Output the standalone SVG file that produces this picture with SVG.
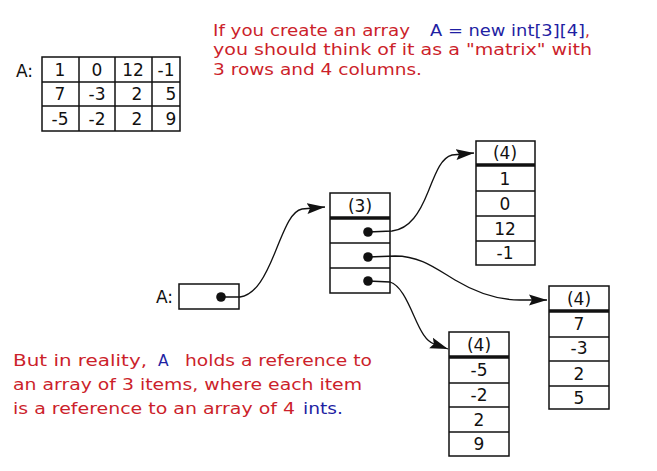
<svg xmlns="http://www.w3.org/2000/svg" width="657" height="471" viewBox="0 0 657 471">
<style>
text{font-family:"DejaVu Sans","Liberation Sans",sans-serif;}
.red{fill:#cc1f2b;font-size:15.5px;}
.blue{fill:#1f1fa3;font-size:15.5px;}
.lbl{fill:#111;font-size:17px;text-anchor:middle;}
.lbl2{fill:#111;font-size:17px;}
.box{fill:#fff;stroke:#111;stroke-width:1.5;}
.div{stroke:#111;stroke-width:1.5;}
.thick{stroke:#111;stroke-width:3.5;}
.conn{fill:none;stroke:#111;stroke-width:1.3;}
.dot{fill:#111;}
</style>
<defs>
<marker id="ah" markerUnits="userSpaceOnUse" markerWidth="20" markerHeight="14" refX="18" refY="7" orient="auto">
<path d="M0,1.5 L18,7 L0,12.5 L3,7 Z" fill="#111"/>
</marker>
</defs>

<g id="caption-top">
<text class="red" x="213" y="36" textLength="197" lengthAdjust="spacingAndGlyphs">If you create an array</text>
<text class="blue" x="430" y="36" textLength="155" lengthAdjust="spacingAndGlyphs">A = new int[3][4]</text>
<text class="red" x="585" y="36">,</text>
<text class="red" x="213" y="55" textLength="379" lengthAdjust="spacingAndGlyphs">you should think of it as a "matrix" with</text>
<text class="red" x="213" y="75" textLength="209" lengthAdjust="spacingAndGlyphs">3 rows and 4 columns.</text>
</g>

<g id="matrix">
<text class="lbl2" x="16" y="77">A:</text>
<rect class="box" x="42" y="57" width="138" height="74"/>
<line class="div" x1="42" y1="82" x2="180" y2="82"/>
<line class="div" x1="42" y1="106" x2="180" y2="106"/>
<line class="div" x1="79" y1="57" x2="79" y2="131"/>
<line class="div" x1="115" y1="57" x2="115" y2="131"/>
<line class="div" x1="152" y1="57" x2="152" y2="131"/>
<text class="lbl" x="60" y="76">1</text>
<text class="lbl" x="97" y="76">0</text>
<text class="lbl" x="133" y="76">12</text>
<text class="lbl" x="166" y="76">-1</text>
<text class="lbl" x="60" y="100">7</text>
<text class="lbl" x="97" y="100">-3</text>
<text class="lbl" x="137" y="100">2</text>
<text class="lbl" x="171" y="100">5</text>
<text class="lbl" x="60" y="125">-5</text>
<text class="lbl" x="97" y="125">-2</text>
<text class="lbl" x="137" y="125">2</text>
<text class="lbl" x="171" y="125">9</text>
</g>

<g id="var-A">
<text class="lbl2" x="156" y="303">A:</text>
<rect class="box" x="179" y="284" width="60" height="25"/>
<circle class="dot" cx="221" cy="297" r="4.8"/>
</g>

<g id="array3">
<rect class="box" x="330" y="193" width="60" height="100"/>
<line class="thick" x1="330" y1="218" x2="390" y2="218"/>
<line class="div" x1="330" y1="243" x2="390" y2="243"/>
<line class="div" x1="330" y1="268" x2="390" y2="268"/>
<text class="lbl" x="360" y="212">(3)</text>
<circle class="dot" cx="368" cy="232" r="4.8"/>
<circle class="dot" cx="368" cy="257" r="4.8"/>
<circle class="dot" cx="368" cy="281" r="4.8"/>
</g>

<g id="row0">
<rect class="box" x="476" y="141" width="59" height="124"/>
<line class="thick" x1="476" y1="165" x2="535" y2="165"/>
<line class="div" x1="476" y1="191" x2="535" y2="191"/>
<line class="div" x1="476" y1="216" x2="535" y2="216"/>
<line class="div" x1="476" y1="241" x2="535" y2="241"/>
<text class="lbl" x="505" y="159">(4)</text>
<text class="lbl" x="505" y="185">1</text>
<text class="lbl" x="505" y="210">0</text>
<text class="lbl" x="505" y="235">12</text>
<text class="lbl" x="505" y="259">-1</text>
</g>

<g id="row1">
<rect class="box" x="549" y="286" width="60" height="123"/>
<line class="thick" x1="549" y1="311" x2="609" y2="311"/>
<line class="div" x1="549" y1="337" x2="609" y2="337"/>
<line class="div" x1="549" y1="361" x2="609" y2="361"/>
<line class="div" x1="549" y1="386" x2="609" y2="386"/>
<text class="lbl" x="579" y="305">(4)</text>
<text class="lbl" x="579" y="330">7</text>
<text class="lbl" x="579" y="354">-3</text>
<text class="lbl" x="579" y="380">2</text>
<text class="lbl" x="579" y="404">5</text>
</g>

<g id="row2">
<rect class="box" x="449" y="332" width="60" height="124"/>
<line class="thick" x1="449" y1="357" x2="509" y2="357"/>
<line class="div" x1="449" y1="383" x2="509" y2="383"/>
<line class="div" x1="449" y1="407" x2="509" y2="407"/>
<line class="div" x1="449" y1="432" x2="509" y2="432"/>
<text class="lbl" x="479" y="351">(4)</text>
<text class="lbl" x="479" y="376">-5</text>
<text class="lbl" x="479" y="401">-2</text>
<text class="lbl" x="479" y="426">2</text>
<text class="lbl" x="479" y="450">9</text>
</g>

<g id="connectors">
<path class="conn" d="M221,297 L240,297 C256,295 266,275 276,250 C286,225 292,211 302,209 L325,207" marker-end="url(#ah)"/>
<path class="conn" d="M368,232 L392,231 C410,229 420,212 428,192 C436,172 441,158 452,155 L474,153" marker-end="url(#ah)"/>
<path class="conn" d="M368,257 L395,256 C420,256 435,268 455,280 C475,292 495,300 520,300 L547,300" marker-end="url(#ah)"/>
<path class="conn" d="M368,281 L390,282 C400,285 407,300 414,316 C421,332 426,341 434,344 L448,349" marker-end="url(#ah)"/>
</g>

<g id="caption-bottom">
<text class="red" x="13" y="366" textLength="134" lengthAdjust="spacingAndGlyphs">But in reality,</text>
<text class="blue" x="158" y="366">A</text>
<text class="red" x="185" y="366" textLength="187" lengthAdjust="spacingAndGlyphs">holds a reference to</text>
<text class="red" x="13" y="390" textLength="349" lengthAdjust="spacingAndGlyphs">an array of 3 items, where each item</text>
<text class="red" x="13" y="414" textLength="282" lengthAdjust="spacingAndGlyphs">is a reference to an array of 4</text>
<text class="blue" x="303" y="414" textLength="40" lengthAdjust="spacingAndGlyphs">ints.</text>
</g>
</svg>
